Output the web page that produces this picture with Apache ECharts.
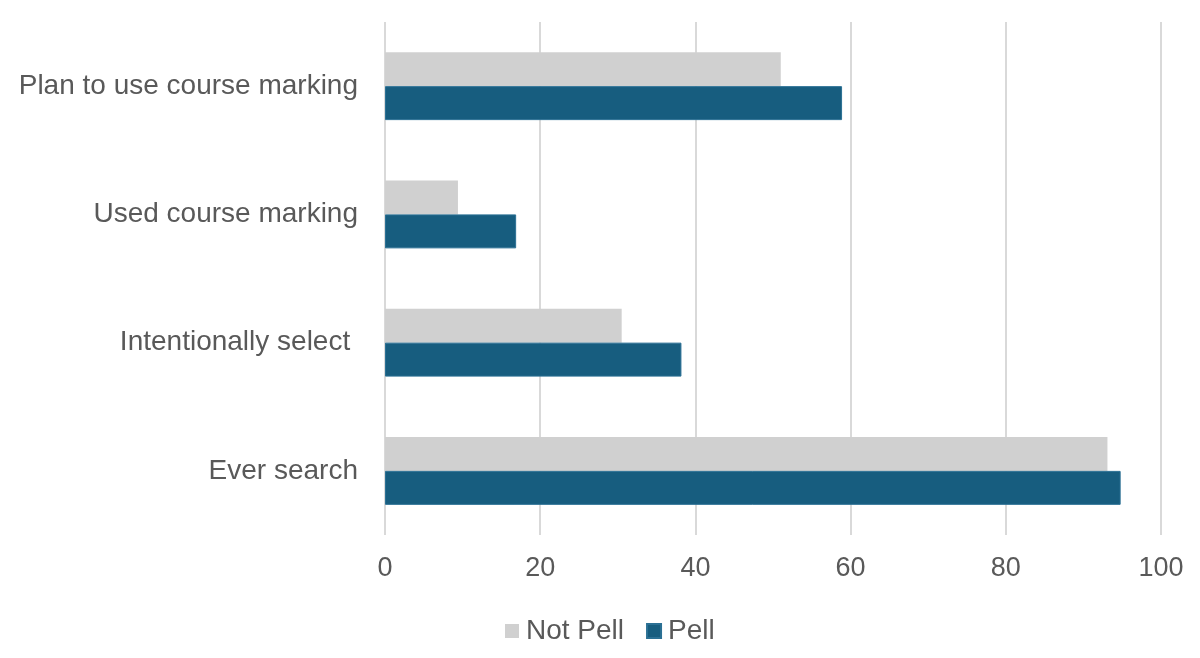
<!DOCTYPE html>
<html>
<head>
<meta charset="utf-8">
<script src="https://cdn.jsdelivr.net/npm/echarts@6/dist/echarts.min.js"></script>
<style>
  html, body { margin: 0; padding: 0; background: #fff; }
  #chart { width: 1200px; height: 658px; }
</style>
</head>
<body>
<div id="chart"></div>
<script>
// categories listed bottom to top (category y axis starts at the bottom)
const categories = ['Ever search', 'Intentionally select ', 'Used course marking', 'Plan to use course marking'];
const notPell = [93.1, 30.5, 9.4, 51.0];
const pell = [94.8, 38.2, 16.9, 58.9];
const xTicks = [0, 20, 40, 60, 80, 100];

const textColor = '#595959';
const font = '"Liberation Sans", Arial, sans-serif';

const chart = echarts.init(document.getElementById('chart'));

chart.setOption({
    animation: false,
    grid: { left: 385, right: 39, top: 22, bottom: 123, containLabel: false },
    legend: {
        data: ['Not Pell', 'Pell'],
        left: 500,
        top: 612,
        icon: 'rect',
        itemWidth: 14,
        itemHeight: 14,
        itemGap: 22,
        textStyle: { color: textColor, fontSize: 28, fontFamily: font, padding: [0, 0, 0, 2] }
    },
    xAxis: {
        type: 'value',
        min: xTicks[0],
        max: xTicks[xTicks.length - 1],
        interval: 20,
        axisLine: { show: false },
        axisTick: { show: false },
        splitLine: { lineStyle: { color: '#d9d9d9', width: 2 } },
        axisLabel: { color: textColor, fontSize: 27, fontFamily: font, margin: 20 }
    },
    yAxis: {
        type: 'category',
        data: categories,
        axisLine: { show: false },
        axisTick: { show: false },
        axisLabel: { color: textColor, fontSize: 28, fontFamily: font, margin: 27 }
    },
    series: [
        {
            name: 'Not Pell',
            type: 'bar',
            data: notPell,
            itemStyle: { color: '#d0d0d0' },
            barGap: '0%',
            barCategoryGap: '47%'
        },
        {
            name: 'Pell',
            type: 'bar',
            data: pell,
            itemStyle: { color: '#175d7f', borderColor: '#2b7094', borderWidth: 1 },
            barGap: '0%',
            barCategoryGap: '47%'
        }
    ]
});
</script>
</body>
</html>
